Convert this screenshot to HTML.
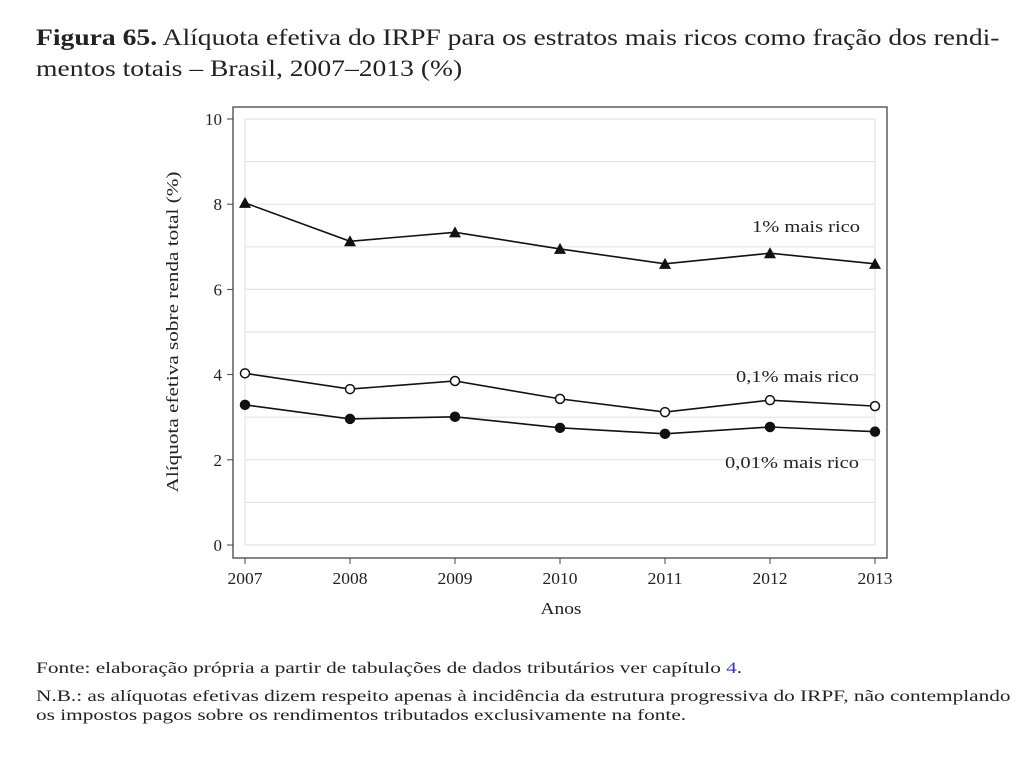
<!DOCTYPE html>
<html><head><meta charset="utf-8"><style>
body{margin:0;background:#fff;width:1024px;height:768px;overflow:hidden;font-family:"Liberation Serif",serif;color:#222}
.t{position:absolute;left:36px;top:22px;font-size:23px;line-height:31px;white-space:nowrap;transform:scaleX(1.2);transform-origin:left top}
.f{position:absolute;left:36px;font-size:16px;line-height:19px;white-space:nowrap;transform:scaleX(1.33);transform-origin:left top}
</style></head><body>
<div class="t"><b>Figura 65.</b> Alíquota efetiva do IRPF para os estratos mais ricos como fração dos rendi-<br>mentos totais – Brasil, 2007–2013 (%)</div>
<svg id="c" width="1024" height="768" style="position:absolute;left:0;top:0"></svg>
<div class="f" style="top:659px">Fonte: elaboração própria a partir de tabulações de dados tributários ver capítulo <span style="color:#33c">4</span>.</div>
<div class="f" style="top:687px">N.B.: as alíquotas efetivas dizem respeito apenas à incidência da estrutura progressiva do IRPF, não contemplando<br>os impostos pagos sobre os rendimentos tributados exclusivamente na fonte.</div>
<script>
const years=[2007,2008,2009,2010,2011,2012,2013];
const top1=[8.03,7.13,7.34,6.95,6.6,6.85,6.6];
const top01=[4.03,3.66,3.85,3.43,3.12,3.40,3.26];
const top001=[3.29,2.96,3.01,2.75,2.61,2.77,2.66];
const yTicks=[0,2,4,6,8,10];
const NS="http://www.w3.org/2000/svg";
const svg=document.getElementById('c');
const X=v=>245+(v-2007)*105;
const Y=v=>545-v*42.6;
function mk(t,a,p){const e=document.createElementNS(NS,t);for(const k in a)e.setAttribute(k,a[k]);(p||svg).appendChild(e);return e;}
mk('rect',{x:233,y:107,width:654,height:451,fill:'#fff',stroke:'#444','stroke-width':1.3});
for(let v=0;v<=10;v++){const g=mk('line',{x1:245,x2:875,y1:Y(v),y2:Y(v),stroke:'#e4e4e4','stroke-width':1.2});

}
mk('line',{x1:245,x2:245,y1:Y(10),y2:Y(0),stroke:'#e4e4e4','stroke-width':1.2});
mk('line',{x1:875,x2:875,y1:Y(10),y2:Y(0),stroke:'#e4e4e4','stroke-width':1.2});
yTicks.forEach(v=>{mk('line',{x1:227,x2:233,y1:Y(v),y2:Y(v),stroke:'#444'});
const t=mk('text',{x:222,y:Y(v)+6,'text-anchor':'end','font-size':17,fill:'#222'});t.textContent=v;

});
years.forEach(v=>{mk('line',{x1:X(v),x2:X(v),y1:558,y2:564,stroke:'#444'});
const t=mk('text',{x:X(v),y:584,'text-anchor':'middle','font-size':17,fill:'#222',textLength:35,lengthAdjust:'spacingAndGlyphs'});t.textContent=v;

});
let t=mk('text',{x:561,y:614,'text-anchor':'middle','font-size':17,fill:'#222',textLength:41,lengthAdjust:'spacingAndGlyphs'});t.textContent='Anos';

t=mk('text',{x:0,y:0,'text-anchor':'middle','font-size':17,fill:'#222',textLength:321,lengthAdjust:'spacingAndGlyphs',transform:'translate(178,332) rotate(-90)'});t.textContent='Alíquota efetiva sobre renda total (%)';

function series(d,kind,name,lx,ly,len){
 const g=mk('g',{});
 
 
 mk('polyline',{points:d.map((v,i)=>X(years[i])+','+Y(v)).join(' '),fill:'none',stroke:'#111','stroke-width':1.6},g);
 d.forEach((v,i)=>{const x=X(years[i]),y=Y(v);
  if(kind==='tri')mk('polygon',{points:`${x},${y-6} ${x-6},${y+5} ${x+6},${y+5}`,fill:'#111'},g);
  else mk('circle',{cx:x,cy:y,r:4.5,fill:kind==='open'?'#fff':'#111',stroke:'#111','stroke-width':1.5},g);});
 const l=mk('text',{x:lx-len,y:ly,'font-size':17,fill:'#222',textLength:len,lengthAdjust:'spacingAndGlyphs'},g);l.textContent=name;
}
series(top1,'tri','1% mais rico',860,232,108);
series(top01,'open','0,1% mais rico',859,382,123);
series(top001,'fill','0,01% mais rico',859,468,134);
</script>
</body></html>
